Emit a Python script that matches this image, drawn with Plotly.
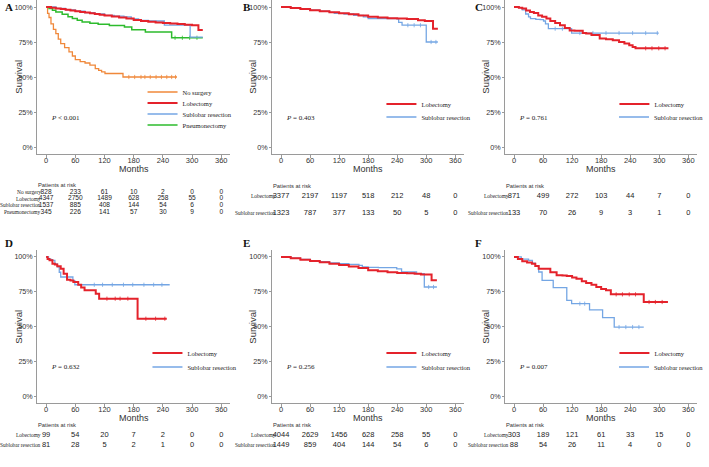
import plotly.graph_objects as go

W, H = 709, 467
def px(x): return x / W
def py(y): return 1 - y / H

TIME_TICKS = [0, 60, 120, 180, 240, 300, 360]
SURV_TICKS = [0, 0.25, 0.5, 0.75, 1.0]
SURV_LABELS = ["0%", "25%", "50%", "75%", "100%"]

SANS_N = "Liberation Sans Narrow, Arial Narrow, Liberation Sans, Arial, sans-serif"
SERIF = "Liberation Serif, Times New Roman, serif"

RED = "#E4222B"
BLUE = "#74A6E4"
GREEN = "#2DBB2D"
ORANGE = "#F0883A"

# ---------------- Panel A ----------------
a_nosurg_t = [0, 3, 6, 10, 15, 20, 25, 30, 38, 47, 54, 60, 70, 80, 90, 101, 108, 114, 121, 158, 269]
a_nosurg_s = [1, 0.955, 0.925, 0.88, 0.84, 0.81, 0.77, 0.738, 0.71, 0.68, 0.65, 0.624, 0.61, 0.6, 0.585, 0.56, 0.548, 0.536, 0.525, 0.5, 0.5]
a_nosurg_cens = [170, 182, 195, 203, 214, 226, 237, 248, 258, 266]
a_lob_t = [0, 10, 20, 30, 40, 50, 60, 70, 80, 90, 100, 110, 120, 135, 150, 165, 180, 195, 210, 225, 240, 255, 270, 285, 300, 313, 322]
a_lob_s = [1, 0.995, 0.99, 0.985, 0.98, 0.975, 0.97, 0.965, 0.96, 0.955, 0.95, 0.945, 0.94, 0.932, 0.925, 0.917, 0.908, 0.9, 0.895, 0.89, 0.886, 0.882, 0.878, 0.874, 0.87, 0.835, 0.835]
a_sub_t = [0, 20, 40, 60, 80, 100, 120, 140, 160, 175, 190, 210, 243, 270, 296, 322]
a_sub_s = [1, 0.99, 0.98, 0.97, 0.96, 0.95, 0.94, 0.935, 0.93, 0.915, 0.905, 0.9, 0.87, 0.87, 0.785, 0.785]
a_pne_t = [0, 6, 13, 20, 33, 45, 54, 64, 74, 90, 107, 130, 161, 176, 202, 204, 256, 258, 322]
a_pne_s = [1, 0.99, 0.976, 0.965, 0.948, 0.93, 0.917, 0.905, 0.893, 0.884, 0.876, 0.868, 0.857, 0.838, 0.838, 0.821, 0.821, 0.78, 0.78]
a_pne_cens = [265, 280, 295, 310]
a_risk_labels = ["No surgery", "Lobectomy", "Sublobar resection", "Pneumonectomy"]
a_risk_nosurg = [828, 233, 61, 10, 2, 0, 0]
a_risk_lob = [4347, 2750, 1489, 628, 258, 55, 0]
a_risk_sub = [1537, 885, 408, 144, 54, 6, 0]
a_risk_pne = [345, 226, 141, 57, 30, 9, 0]

# ---------------- Panel B ----------------
b_lob_t = [0, 20, 40, 60, 80, 100, 120, 140, 160, 180, 200, 220, 240, 260, 283, 297, 314, 324]
b_lob_s = [1, 0.993, 0.985, 0.977, 0.97, 0.963, 0.956, 0.948, 0.94, 0.93, 0.925, 0.92, 0.917, 0.914, 0.905, 0.9, 0.845, 0.845]
b_sub_t = [0, 20, 40, 60, 80, 100, 110, 130, 150, 170, 180, 240, 243, 250, 300, 324]
b_sub_s = [1, 0.993, 0.985, 0.977, 0.97, 0.962, 0.955, 0.95, 0.94, 0.93, 0.918, 0.915, 0.89, 0.87, 0.75, 0.75]
b_sub_cens = [262, 275, 288, 310, 320]
b_risk_lob = [3377, 2197, 1197, 518, 212, 48, 0]
b_risk_sub = [1323, 787, 377, 133, 50, 5, 0]

# ---------------- Panel C ----------------
c_lob_t = [0, 10, 17, 25, 33, 41, 50, 58, 67, 75, 85, 95, 105, 115, 125, 142, 149, 160, 177, 190, 204, 217, 228, 238, 245, 251, 319]
c_lob_s = [1, 0.995, 0.99, 0.975, 0.965, 0.957, 0.94, 0.93, 0.917, 0.9, 0.885, 0.87, 0.85, 0.833, 0.83, 0.815, 0.81, 0.8, 0.775, 0.77, 0.762, 0.75, 0.74, 0.726, 0.715, 0.705, 0.705]
c_lob_cens = [272, 285, 299, 312]
c_sub_t = [0, 10, 17, 24, 30, 34, 45, 54, 61, 65, 71, 119, 299]
c_sub_s = [1, 0.995, 0.98, 0.95, 0.93, 0.917, 0.912, 0.91, 0.9, 0.88, 0.845, 0.814, 0.814]
c_sub_cens = [85, 100, 136, 163, 190, 217, 245, 272, 296]
c_risk_lob = [871, 499, 272, 103, 44, 7, 0]
c_risk_sub = [133, 70, 26, 9, 3, 1, 0]

# ---------------- Panel D ----------------
d_lob_t = [0, 3, 7, 13, 18, 23, 30, 36, 43, 50, 56, 66, 72, 79, 102, 109, 188, 248]
d_lob_s = [1, 0.985, 0.976, 0.952, 0.945, 0.933, 0.916, 0.88, 0.837, 0.83, 0.82, 0.8, 0.78, 0.76, 0.736, 0.70, 0.556, 0.556]
d_lob_cens = [125, 142, 152, 168, 205, 225, 244]
d_sub_t = [0, 5, 10, 13, 18, 23, 27, 30, 55, 59, 254]
d_sub_s = [1, 0.985, 0.98, 0.976, 0.95, 0.928, 0.89, 0.856, 0.83, 0.80, 0.80]
d_sub_cens = [99, 116, 136, 159, 178, 201, 221, 238]
d_risk_lob = [99, 54, 20, 7, 2, 0, 0]
d_risk_sub = [81, 28, 5, 2, 1, 0, 0]

# ---------------- Panel E ----------------
e_lob_t = [0, 20, 40, 60, 80, 100, 120, 140, 160, 180, 200, 220, 240, 260, 276, 289, 311, 322]
e_lob_s = [1, 0.99, 0.98, 0.971, 0.962, 0.952, 0.942, 0.932, 0.92, 0.905, 0.897, 0.89, 0.885, 0.882, 0.88, 0.873, 0.832, 0.832]
e_sub_t = [0, 20, 40, 60, 80, 100, 120, 140, 161, 168, 180, 201, 239, 249, 280, 296, 322]
e_sub_s = [1, 0.991, 0.982, 0.974, 0.966, 0.958, 0.952, 0.947, 0.94, 0.928, 0.925, 0.923, 0.915, 0.892, 0.88, 0.784, 0.784]
e_sub_cens = [305, 315]
e_risk_lob = [4044, 2629, 1456, 628, 258, 55, 0]
e_risk_sub = [1449, 859, 404, 144, 54, 6, 0]

# ---------------- Panel F ----------------
f_lob_t = [0, 8, 17, 27, 37, 44, 51, 75, 88, 100, 109, 120, 129, 140, 149, 160, 170, 180, 190, 200, 268, 318]
f_lob_s = [1, 0.985, 0.97, 0.96, 0.952, 0.935, 0.916, 0.89, 0.868, 0.866, 0.863, 0.853, 0.844, 0.826, 0.813, 0.8, 0.784, 0.77, 0.76, 0.731, 0.676, 0.676]
f_lob_cens = [211, 224, 238, 251, 279, 292, 306]
f_sub_t = [0, 15, 30, 38, 44, 51, 58, 81, 109, 119, 156, 183, 207, 268]
f_sub_s = [1, 0.985, 0.975, 0.955, 0.933, 0.892, 0.832, 0.78, 0.688, 0.664, 0.62, 0.564, 0.496, 0.496]
f_sub_cens = [136, 146, 217, 231, 245, 258]
f_risk_lob = [303, 189, 121, 61, 33, 15, 0]
f_risk_sub = [88, 54, 26, 11, 4, 0, 0]

two_labels = ["Lobectomy", "Sublobar resection"]

COLS = [(38, 234), (277, 472), (514, 709)]
ROWS = [(0, 154), (250, 403)]

panels = [
    dict(letter="A", col=0, row=0,
         series=[("No surgery", ORANGE, 1.3, a_nosurg_t, a_nosurg_s, a_nosurg_cens),
                 ("Lobectomy", RED, 2.0, a_lob_t, a_lob_s, []),
                 ("Sublobar resection", BLUE, 1.3, a_sub_t, a_sub_s, []),
                 ("Pneumonectomy", GREEN, 1.5, a_pne_t, a_pne_s, a_pne_cens)],
         draw_order=[0, 3, 2, 1],
         risk=list(zip(a_risk_labels, [a_risk_nosurg, a_risk_lob, a_risk_sub, a_risk_pne])),
         p="<i>P</i> < 0.001", leg_y=[92, 103, 114, 125], leg_x=182,
         tab=(188.5, 215.5), par=185, numsize=6.6),
    dict(letter="B", col=1, row=0,
         series=[("Lobectomy", RED, 2.0, b_lob_t, b_lob_s, []),
                 ("Sublobar resection", BLUE, 1.3, b_sub_t, b_sub_s, b_sub_cens)],
         draw_order=[1, 0],
         risk=list(zip(two_labels, [b_risk_lob, b_risk_sub])),
         p="<i>P</i> = 0.403", leg_y=[104, 117], leg_x=425,
         tab=(187.5, 221.5), par=186, numsize=7.5),
    dict(letter="C", col=2, row=0,
         series=[("Lobectomy", RED, 2.0, c_lob_t, c_lob_s, c_lob_cens),
                 ("Sublobar resection", BLUE, 1.3, c_sub_t, c_sub_s, c_sub_cens)],
         draw_order=[1, 0],
         risk=list(zip(two_labels, [c_risk_lob, c_risk_sub])),
         p="<i>P</i> = 0.761", leg_y=[104, 117], leg_x=662,
         tab=(187.5, 221.5), par=186, numsize=7.5),
    dict(letter="D", col=0, row=1,
         series=[("Lobectomy", RED, 2.0, d_lob_t, d_lob_s, d_lob_cens),
                 ("Sublobar resection", BLUE, 1.3, d_sub_t, d_sub_s, d_sub_cens)],
         draw_order=[1, 0],
         risk=list(zip(two_labels, [d_risk_lob, d_risk_sub])),
         p="<i>P</i> = 0.632", leg_y=[353, 367], leg_x=187,
         tab=(430, 450), par=425, numsize=7.5),
    dict(letter="E", col=1, row=1,
         series=[("Lobectomy", RED, 2.0, e_lob_t, e_lob_s, []),
                 ("Sublobar resection", BLUE, 1.3, e_sub_t, e_sub_s, e_sub_cens)],
         draw_order=[1, 0],
         risk=list(zip(two_labels, [e_risk_lob, e_risk_sub])),
         p="<i>P</i> = 0.256", leg_y=[353, 367], leg_x=425,
         tab=(430, 450), par=425, numsize=7.5),
    dict(letter="F", col=2, row=1,
         series=[("Lobectomy", RED, 2.0, f_lob_t, f_lob_s, f_lob_cens),
                 ("Sublobar resection", BLUE, 1.3, f_sub_t, f_sub_s, f_sub_cens)],
         draw_order=[1, 0],
         risk=list(zip(two_labels, [f_risk_lob, f_risk_sub])),
         p="<i>P</i> = 0.007", leg_y=[353, 367], leg_x=662,
         tab=(430, 450), par=425, numsize=7.5),
]


def surv_at(t, s, tc):
    """Step-function value of a KM curve at time tc."""
    val = s[0]
    for ti, si in zip(t, s):
        if ti <= tc:
            val = si
    return val


fig = go.Figure()
layout = dict(width=W, height=H, margin=dict(l=0, r=0, t=0, b=0),
              plot_bgcolor="white", paper_bgcolor="white",
              showlegend=True, annotations=[])
ann = layout["annotations"]
AXC = "#9a9a9a"
leg_n = 0

for i, p in enumerate(panels):
    k = i + 1
    kt = i + 7
    x0, x1 = COLS[p["col"]]
    ytop, ybot = ROWS[p["row"]]
    xa, ya = f"x{k}", f"y{k}"
    xt, yt = f"x{kt}", f"y{kt}"
    layout[f"xaxis{k}"] = dict(domain=[px(x0), px(x1)], range=[-18, 378], anchor=ya,
                               tickvals=TIME_TICKS, showline=True, linecolor=AXC, linewidth=1.3,
                               ticks="outside", ticklen=3, tickcolor=AXC, showgrid=False, zeroline=False,
                               ticklabelstandoff=-4,
                               tickfont=dict(family=SANS_N, size=7.5, color="#333"))
    layout[f"yaxis{k}"] = dict(domain=[py(ybot), py(ytop)], range=[-0.05, 1.05], anchor=xa,
                               tickvals=SURV_TICKS, ticktext=SURV_LABELS, showline=True, linecolor=AXC,
                               linewidth=1.3, ticks="outside", ticklen=2, tickcolor=AXC, showgrid=False,
                               zeroline=False, tickfont=dict(family=SANS_N, size=7.2, color="#333"))
    t0, t1 = p["tab"]
    nrow = len(p["risk"])
    layout[f"xaxis{kt}"] = dict(domain=[px(x0), px(x1)], range=[-18, 378], anchor=yt, visible=False)
    layout[f"yaxis{kt}"] = dict(domain=[py(t1), py(t0)], range=[nrow - 0.5, -0.5], anchor=xt, visible=False)

    # curves
    leg_names = {}
    for j in p["draw_order"]:
        name, color, width, t, s, cens = p["series"][j]
        leg_n += 1
        lname = "legend" if leg_n == 1 else f"legend{leg_n}"
        leg_names[j] = lname
        fig.add_trace(go.Scatter(x=t, y=s, mode="lines", line=dict(color=color, width=width, shape="hv"),
                                 name=name, xaxis=xa, yaxis=ya, legend=lname, hoverinfo="skip"))
        if cens:
            fig.add_trace(go.Scatter(x=cens, y=[surv_at(t, s, c) for c in cens], mode="markers",
                                     marker=dict(symbol="line-ns", size=3, line=dict(width=0.8, color=color)),
                                     xaxis=xa, yaxis=ya, showlegend=False, hoverinfo="skip"))
    for j, lname in leg_names.items():
        layout[lname] = dict(x=px(p["leg_x"] - 37), y=py(p["leg_y"][j]), xanchor="left", yanchor="middle",
                             bgcolor="rgba(0,0,0,0)", borderwidth=0, itemwidth=30,
                             font=dict(family=SERIF, size=6.5, color="#222"))

    # risk table numbers
    for r, (lab, vals) in enumerate(p["risk"]):
        fig.add_trace(go.Scatter(x=TIME_TICKS, y=[r] * len(vals), mode="text",
                                 text=[str(v) for v in vals], textposition="middle center",
                                 textfont=dict(family=SANS_N, size=p["numsize"], color="#222"),
                                 xaxis=xt, yaxis=yt, showlegend=False, hoverinfo="skip"))
        ann.append(dict(text=lab, xref=xt, yref=yt, x=0, y=r, xanchor="right", yanchor="middle",
                        xshift=-3, showarrow=False, font=dict(family=SERIF, size=5.4, color="#222")))

    # texts
    xc = {0: 3, 1: 245, 2: 481}[p["col"]]
    ann.append(dict(text=f"<b>{p['letter']}</b>", xref="paper", yref="paper", x=px(xc),
                    y=py(7 if p["row"] == 0 else 243), xanchor="left", yanchor="middle", showarrow=False,
                    font=dict(family=SERIF, size=11, color="#111")))
    sx = {0: 18, 1: 256, 2: 493}[p["col"]]
    ann.append(dict(text="Survival", xref="paper", yref="paper", x=px(sx),
                    y=py(77 if p["row"] == 0 else 327), textangle=-90, xanchor="center", yanchor="middle",
                    showarrow=False, font=dict(family=SANS_N, size=9.5, color="#333")))
    ann.append(dict(text="Months", xref=xa, yref="paper", x=180,
                    y=py(169 if p["row"] == 0 else 418), xanchor="center", yanchor="middle",
                    showarrow=False, font=dict(family=SANS_N, size=9, color="#333")))
    ann.append(dict(text=p["p"], xref=xa, yref=ya, x=6, y=0.21, xanchor="left", yanchor="middle",
                    showarrow=False, font=dict(family=SERIF, size=7, color="#222")))
    ann.append(dict(text="Patients at risk", xref="paper", yref="paper", x=px(x0 - 1), y=py(p["par"]),
                    xanchor="left", yanchor="middle", showarrow=False,
                    font=dict(family=SANS_N, size=5.8, color="#333")))

fig.update_layout(**layout)
fig.write_html("out.html", config={"displayModeBar": False},
               post_script="document.body.style.margin='0px';")
